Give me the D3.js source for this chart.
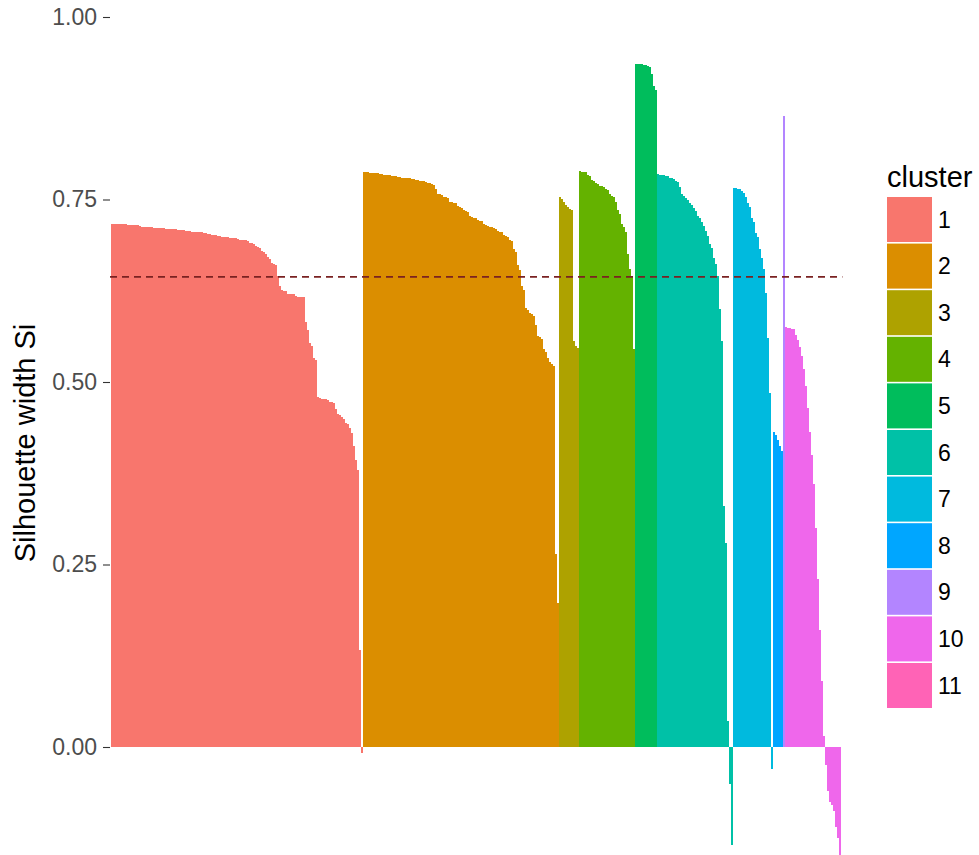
<!DOCTYPE html>
<html>
<head>
<meta charset="utf-8">
<script src="https://cdn.jsdelivr.net/npm/d3@7"></script>
<style>
  body { margin: 0; background: #ffffff; }
  svg { display: block; }
  text { font-family: "Liberation Sans", Arial, sans-serif; }
</style>
</head>
<body>
<svg id="chart" width="979" height="855"></svg>
<script>
// Cluster labels and their ggplot-style hue colours
const clusters = ["1", "2", "3", "4", "5", "6", "7", "8", "9", "10", "11"];
const clusterColors = ["#F8766D", "#DB8E00", "#AEA200", "#64B200", "#00BD5C", "#00C1A7",
                       "#00BADE", "#00A6FF", "#B385FF", "#EF67EB", "#FF63B6"];

// Silhouette widths of each observation, sorted within its cluster
const silCluster1 = [
  0.717, 0.717, 0.716, 0.716, 0.716, 0.716, 0.716, 0.716, 0.715, 0.715, 0.715, 0.715, 0.715, 0.715, 0.714,
  0.712, 0.712, 0.712, 0.712, 0.712, 0.712, 0.711, 0.711, 0.711, 0.711, 0.711, 0.711, 0.710,
  0.709, 0.709, 0.709, 0.709, 0.709, 0.708, 0.708, 0.708, 0.708,
  0.707, 0.707, 0.707, 0.706, 0.706, 0.706, 0.706, 0.705, 0.705,
  0.704, 0.704, 0.703, 0.703, 0.702,
  0.701, 0.701, 0.700, 0.700,
  0.698, 0.698, 0.698, 0.698, 0.697, 0.697, 0.697, 0.697, 0.696,
  0.695, 0.695, 0.694, 0.694, 0.693,
  0.691, 0.690, 0.689,
  0.686, 0.685, 0.683,
  0.679, 0.678, 0.676,
  0.671, 0.669,
  0.663, 0.662, 0.660,
  0.645, 0.632,
  0.626, 0.625, 0.624,
  0.621, 0.621, 0.621, 0.620,
  0.618, 0.617, 0.617, 0.617, 0.616,
  0.582, 0.571, 0.553, 0.549, 0.533, 0.530,
  0.480, 0.478, 0.477, 0.477, 0.477, 0.476,
  0.473, 0.472, 0.471, 0.463, 0.456, 0.455, 0.452, 0.450, 0.444, 0.442,
  0.437, 0.430, 0.412, 0.393, 0.379, 0.133, -0.008
];
const silCluster2 = [
  0.787, 0.787, 0.787, 0.786, 0.786, 0.786, 0.786, 0.786, 0.785, 0.785,
  0.783, 0.783, 0.783, 0.783, 0.782, 0.782, 0.782,
  0.781, 0.781, 0.780, 0.780, 0.780, 0.780, 0.779,
  0.778, 0.778, 0.777, 0.777,
  0.776, 0.776, 0.775, 0.774,
  0.772, 0.772, 0.771, 0.770,
  0.764, 0.758, 0.757, 0.756,
  0.753, 0.753, 0.752,
  0.747, 0.746, 0.745, 0.745,
  0.741, 0.740, 0.739,
  0.735, 0.734, 0.733,
  0.727, 0.726, 0.725, 0.724,
  0.722, 0.721, 0.720,
  0.716, 0.715, 0.714,
  0.712, 0.712, 0.711, 0.710,
  0.707, 0.706, 0.705,
  0.701, 0.700, 0.699,
  0.695, 0.693, 0.682, 0.678, 0.660, 0.654, 0.632, 0.626, 0.602, 0.598,
  0.594, 0.593, 0.591, 0.578, 0.563, 0.561, 0.559, 0.545, 0.541,
  0.533, 0.527, 0.524, 0.522, 0.265, 0.197
];
const silCluster3 = [0.753, 0.751, 0.747, 0.743, 0.740, 0.737, 0.736, 0.556, 0.550, 0.547];
const silCluster4 = [
  0.789, 0.788, 0.788, 0.787, 0.783, 0.782, 0.777, 0.775, 0.772, 0.771,
  0.769, 0.768, 0.767, 0.764, 0.763, 0.757, 0.755, 0.753, 0.746, 0.735,
  0.730, 0.716, 0.712, 0.706, 0.675, 0.655, 0.645, 0.545
];
const silCluster5 = [0.935, 0.935, 0.935, 0.935, 0.934, 0.934, 0.933, 0.931, 0.922, 0.905, 0.900];
const silCluster6 = [
  0.785, 0.784, 0.784, 0.783, 0.782, 0.782, 0.780, 0.779, 0.778, 0.776,
  0.774, 0.767, 0.757, 0.755, 0.752, 0.750, 0.745, 0.743, 0.738, 0.734,
  0.728, 0.724, 0.719, 0.714, 0.707, 0.700, 0.689, 0.683, 0.670, 0.662,
  0.645, 0.600, 0.556, 0.330, 0.280, 0.035, -0.050, -0.134
];
const silCluster7 = [
  0.766, 0.766, 0.765, 0.764, 0.761, 0.759, 0.753, 0.745, 0.740, 0.725,
  0.719, 0.704, 0.698, 0.682, 0.670, 0.655, 0.622, 0.560, 0.485, -0.030
];
const silCluster8 = [0.432, 0.428, 0.420, 0.412, 0.406];
const silCluster9 = [0.864];
const silCluster10 = [
  0.575, 0.574, 0.574, 0.573, 0.572, 0.565, 0.558, 0.548, 0.536, 0.518,
  0.495, 0.465, 0.432, 0.400, 0.360, 0.300, 0.230, 0.160, 0.090, 0.015,
  -0.025, -0.060, -0.075, -0.080, -0.088, -0.110, -0.125, -0.150
];
const silCluster11 = [];

// Average silhouette width (dashed reference line)
const meanSilWidth = 0.644;

// Axis ticks and titles
const yTicks = [0, 0.25, 0.5, 0.75, 1.0];
const yAxisTitle = "Silhouette width Si";
const legendTitle = "cluster";

const silByCluster = [silCluster1, silCluster2, silCluster3, silCluster4, silCluster5, silCluster6,
                      silCluster7, silCluster8, silCluster9, silCluster10, silCluster11];

// One row per observation, in plotting order
const rows = [];
silByCluster.forEach((vals, ci) => {
  vals.forEach(v => rows.push({ id: rows.length, cluster: clusters[ci], sil: v }));
});

const svg = d3.select("#chart");
const color = d3.scaleOrdinal().domain(clusters).range(clusterColors);

const x = d3.scaleBand()
  .domain(rows.map(d => d.id))
  .range([110, 842.4])
  .paddingInner(0)
  .paddingOuter(0.6);

const y = d3.scaleLinear()
  .domain([-0.15, 1.0])
  .range([856.5, 17]);

// Bars
svg.append("g")
  .attr("shape-rendering", "crispEdges")
  .selectAll("rect")
  .data(rows)
  .join("rect")
  .attr("x", d => x(d.id))
  .attr("width", x.bandwidth())
  .attr("y", d => y(Math.max(0, d.sil)))
  .attr("height", d => Math.abs(y(d.sil) - y(0)))
  .attr("fill", d => color(d.cluster));

// Dashed mean line
svg.append("line")
  .attr("x1", 110)
  .attr("x2", 842.4)
  .attr("y1", y(meanSilWidth))
  .attr("y2", y(meanSilWidth))
  .attr("stroke", "#7a2222")
  .attr("stroke-width", 1.6)
  .attr("stroke-dasharray", "7,5");

// Y axis
const yAxis = svg.append("g")
  .attr("transform", "translate(110,0)")
  .call(d3.axisLeft(y).tickValues(yTicks).tickFormat(d3.format(".2f")).tickSize(7).tickPadding(6));
yAxis.select(".domain").remove();
yAxis.selectAll(".tick line").attr("stroke", "#333333").attr("stroke-width", 1.1);
yAxis.selectAll(".tick text")
  .attr("fill", "#4D4D4D")
  .style("font-size", "23px")
  .style("font-family", "'Liberation Sans', Arial, sans-serif");

// Y axis title
svg.append("text")
  .attr("transform", "translate(35,443) rotate(-90)")
  .attr("text-anchor", "middle")
  .attr("fill", "#000000")
  .style("font-size", "29px")
  .text(yAxisTitle);

// Legend
const legend = svg.append("g");
legend.append("text")
  .attr("x", 887)
  .attr("y", 187)
  .attr("fill", "#000000")
  .style("font-size", "29px")
  .text(legendTitle);

const keyStep = 46.6;
const keyTop = 197;
const items = legend.selectAll("g.key")
  .data(clusters)
  .join("g")
  .attr("class", "key")
  .attr("transform", (d, i) => `translate(887,${keyTop + i * keyStep})`);
items.append("rect")
  .attr("width", 45)
  .attr("height", keyStep - 1.6)
  .attr("fill", d => color(d));
items.append("text")
  .attr("x", 51)
  .attr("y", (keyStep - 1.6) / 2)
  .attr("dy", "0.35em")
  .attr("fill", "#000000")
  .style("font-size", "23px")
  .text(d => d);
</script>
</body>
</html>
